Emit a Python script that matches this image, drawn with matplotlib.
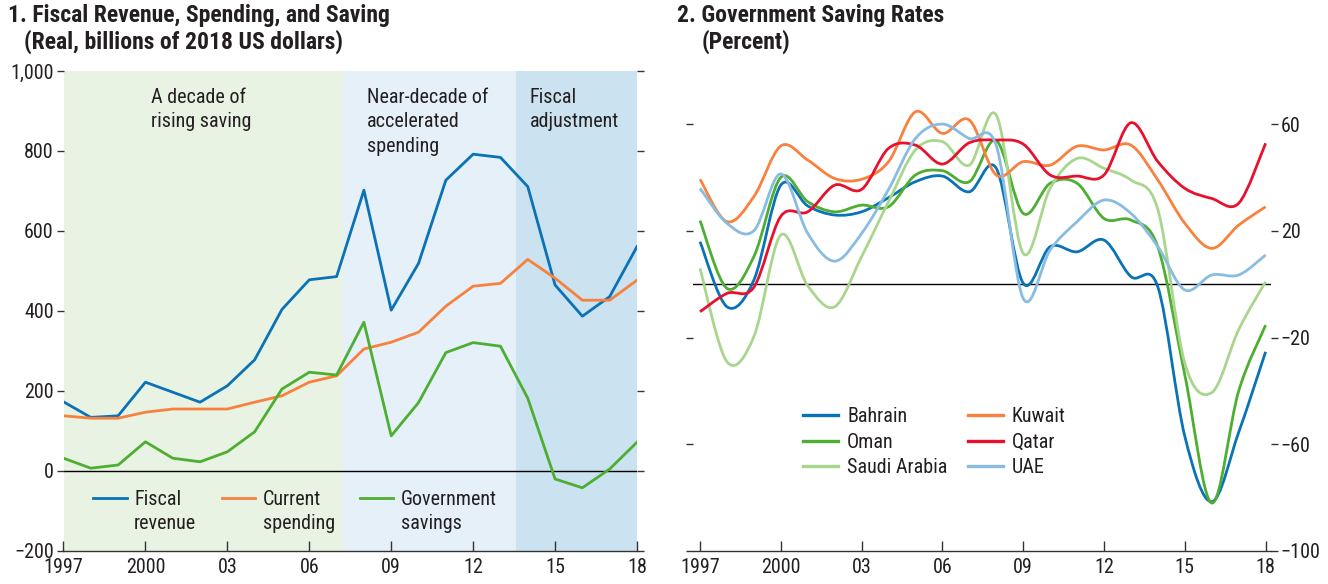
import numpy as np
import matplotlib
matplotlib.use("Agg")
import matplotlib.pyplot as plt
from matplotlib.path import Path
from matplotlib.patches import PathPatch
from matplotlib.lines import Line2D
from matplotlib import font_manager as fm

avail = {f.name for f in fm.fontManager.ttflist}
cands = ['Roboto Condensed', 'Liberation Sans Narrow', 'Open Sans Condensed', 'Roboto', 'DejaVu Sans']
fam = [c for c in cands if c in avail] + ['DejaVu Sans']
plt.rcParams['font.family'] = fam
FAM0 = fam[0]

# ---------------- data ----------------
years = list(range(1997, 2019))

fiscal_revenue = [173, 134, 138, 222, 197, 172, 213, 278, 404, 478, 486, 702, 402,
                  519, 727, 792, 784, 711, 465, 387, 436, 561]
current_spending = [138, 132, 132, 147, 155, 155, 155, 172, 188, 222, 238, 305, 322,
                    347, 412, 462, 469, 529, 482, 427, 427, 477]
government_savings = [32, 7, 15, 73, 32, 23, 48, 98, 205, 247, 240, 372, 88,
                      171, 296, 321, 312, 182, -20, -42, 5, 72]

bahrain = [16, -8.4, 1.6, 37.2, 29.4, 26, 27.2, 32.5, 38.5, 40.6, 34.7, 43.5, 0.4,
           14.1, 12.2, 16.6, 2.9, -1, -57, -81.5, -55.5, -25.3]
oman = [23.9, -1.5, 10.4, 40.1, 31, 27.2, 29.7, 29.1, 41, 42.6, 38.5, 53.9, 26.6,
        37.9, 37.9, 24.7, 24.1, 14, -34, -82, -40, -15.3]
saudi = [6, -29, -19.6, 18.5, -0.5, -8.4, 10.4, 31, 50.4, 53.5, 44.7, 63.5, 11.6,
         36, 47.2, 43.5, 39.1, 28, -29.6, -40.6, -17, 1]
kuwait = [39.4, 23.5, 32.9, 51.9, 46.6, 39.7, 39.4, 46, 64.7, 56.6, 61.6, 41, 46,
          44.7, 51.8, 50.4, 52.2, 39.1, 22.9, 13.5, 22.2, 29.1]
qatar = [-10.3, -3.4, -1.1, 25.5, 27.2, 37.2, 35.6, 51, 52.2, 45.1, 53.1, 54.1, 52.6,
         41, 40.6, 41, 60.6, 46, 36, 32.2, 30.4, 52.9]
uae = [36, 22.9, 20.1, 41.4, 19.1, 8.7, 19.1, 35.6, 54.7, 60.1, 54.7, 52, -5.3,
       12.9, 23.5, 31.6, 26.6, 14.1, -2.1, 3.5, 3.5, 11]

left_labels = ["Fiscal\nrevenue", "Current\nspending", "Government\nsavings"]
right_labels = ["Bahrain", "Oman", "Saudi Arabia", "Kuwait", "Qatar", "UAE"]
xtick_years = [1997, 2000, 2003, 2006, 2009, 2012, 2015, 2018]
xtick_labels = ["1997", "2000", "03", "06", "09", "12", "15", "18"]
left_yticks = [-200, 0, 200, 400, 600, 800, 1000]
left_ytick_labels = ["\u2212200", "0", "200", "400", "600", "800", "1,000"]
right_yticks = [-100, -60, -20, 20, 60]
right_ytick_labels = ["\u2212100", "\u221260", "\u221220", "20", "60"]
period_bounds = [1997, 2007.25, 2013.57, 2018]
period_labels = ["A decade of\nrising saving", "Near-decade of\naccelerated\nspending",
                 "Fiscal\nadjustment"]

# ---------------- style ----------------
BLUE = '#0A72B6'
ORANGE = '#F7813D'
GREEN = '#4DAE31'
RED = '#E8112D'
LGREEN = '#A9D68D'
LBLUE = '#88BCE1'
TXT = '#231F20'
SHADES = ['#E9F3E3', '#E5F0F8', '#CBE2F0']

condensed = FAM0 in ('Roboto Condensed', 'Liberation Sans Narrow', 'Open Sans Condensed')
FS = 14.5 if condensed else 13
TS = 14.5 if condensed else 12.5
HS = 17 if condensed else 14.5
LSP = 1.35

W, H = 1328, 584
fig = plt.figure(figsize=(W / 100, H / 100), dpi=100)

def fx(px):
    return px / W

def fy(py):
    return 1 - py / H

# ---------------- left panel ----------------
ax1 = fig.add_axes([fx(63.5), fy(551), fx(637 - 63.5), (551 - 71) / H])
ax1.set_xlim(1997, 2018)
ax1.set_ylim(-200, 1000)
for i, c in enumerate(SHADES):
    ax1.axvspan(period_bounds[i], period_bounds[i + 1], color=c, lw=0, zorder=0)
ax1.axhline(0, color='black', lw=1.0, zorder=1)
lw = 2.0
ax1.plot(years, fiscal_revenue, color=BLUE, lw=lw, zorder=3)
ax1.plot(years, current_spending, color=ORANGE, lw=lw, zorder=3)
ax1.plot(years, government_savings, color=GREEN, lw=lw, zorder=3)

text_x = [2000.22, 2008.1, 2014.08]
for tx, lab in zip(text_x, period_labels):
    ax1.text(tx, 957, lab, ha='left', va='top', fontsize=FS, color=TXT,
             linespacing=LSP, zorder=4)

# manual legend keys (axes fraction)
key_x = [(0.052, 0.110, 0.123), (0.276, 0.334, 0.347), (0.517, 0.575, 0.588)]
for (x0, x1, xt), col, lab in zip(key_x, [BLUE, ORANGE, GREEN], left_labels):
    ax1.add_line(Line2D([x0, x1], [0.110, 0.110], color=col, lw=lw,
                        transform=ax1.transAxes, zorder=4))
    ax1.text(xt, 0.128, lab, transform=ax1.transAxes, ha='left', va='top',
             fontsize=FS, color=TXT, linespacing=LSP, zorder=4)

for s in ['left', 'right', 'top']:
    ax1.spines[s].set_visible(False)
ax1.spines['bottom'].set_color('#333333')
ax1.spines['bottom'].set_linewidth(1.0)
ax1.set_xticks(xtick_years)
ax1.set_xticklabels(xtick_labels)
ax1.tick_params(axis='x', direction='in', length=7, width=1, color='#333333',
                labelsize=TS, labelcolor=TXT, pad=5)
ax1.set_yticks(left_yticks)
ax1.set_yticklabels(left_ytick_labels)
ax1.tick_params(axis='y', direction='out', length=5, width=1, color='#333333',
                labelsize=TS, labelcolor=TXT, pad=2, right=True)

# ---------------- right panel ----------------
ax2 = fig.add_axes([fx(693), fy(551), fx(1271 - 693), (551 - 71) / H])
ax2.set_xlim(1996.74, 2018.2)
ax2.set_ylim(-100, 80)
ax2.axhline(0, color='black', lw=1.0, zorder=1)


def smooth_path(x, y):
    x = np.asarray(x, float)
    y = np.asarray(y, float)
    n = len(x)
    verts = [(x[0], y[0])]
    codes = [Path.MOVETO]
    for i in range(n - 1):
        i0 = max(i - 1, 0)
        i3 = min(i + 2, n - 1)
        c1 = (x[i] + (x[i + 1] - x[i0]) / 6, y[i] + (y[i + 1] - y[i0]) / 6)
        c2 = (x[i + 1] - (x[i3] - x[i]) / 6, y[i + 1] - (y[i3] - y[i]) / 6)
        verts += [c1, c2, (x[i + 1], y[i + 1])]
        codes += [Path.CURVE4] * 3
    return Path(verts, codes)


series = [bahrain, oman, saudi, kuwait, qatar, uae]
colors = [BLUE, GREEN, LGREEN, ORANGE, RED, LBLUE]
draw_order = [5, 2, 3, 4, 1, 0]
for k in draw_order:
    p = PathPatch(smooth_path(years, series[k]), facecolor='none', edgecolor=colors[k],
                  lw=2.0, transform=ax2.transData, zorder=3 + k * 0.01,
                  capstyle='butt', joinstyle='round')
    ax2.add_patch(p)

handles = [Line2D([], [], color=c, lw=2.4) for c in colors]
ax2.legend(handles, right_labels, ncol=2, loc='upper left', bbox_to_anchor=(0.19, 0.30),
           frameon=False, fontsize=FS, handlelength=1.75, handletextpad=0.45,
           columnspacing=1.0 if condensed else 2.0, labelspacing=0.33, borderpad=0,
           borderaxespad=0, labelcolor=TXT)

for s in ['left', 'right', 'top']:
    ax2.spines[s].set_visible(False)
ax2.spines['bottom'].set_color('#333333')
ax2.spines['bottom'].set_linewidth(1.0)
ax2.set_xticks(xtick_years)
ax2.set_xticklabels(xtick_labels)
ax2.tick_params(axis='x', direction='in', length=7, width=1, color='#333333',
                labelsize=TS, labelcolor=TXT, pad=5)
ax2.set_yticks(right_yticks)
ax2.set_yticklabels(right_ytick_labels)
ax2.yaxis.tick_right()
ax2.tick_params(axis='y', direction='out', length=5, width=1, color='#333333',
                labelsize=TS, labelcolor=TXT, pad=2, left=True, right=True,
                labelleft=False, labelright=True)

# ---------------- titles ----------------
fig.text(fx(8), fy(4), "1. Fiscal Revenue, Spending, and Saving", ha='left', va='top',
         fontsize=HS, fontweight='bold', color=TXT)
fig.text(fx(24), fy(30), "(Real, billions of 2018 US dollars)", ha='left', va='top',
         fontsize=HS, fontweight='bold', color=TXT)
fig.text(fx(677), fy(4), "2. Government Saving Rates", ha='left', va='top',
         fontsize=HS, fontweight='bold', color=TXT)
fig.text(fx(702), fy(30), "(Percent)", ha='left', va='top',
         fontsize=HS, fontweight='bold', color=TXT)

fig.savefig("out.png", dpi=100)
